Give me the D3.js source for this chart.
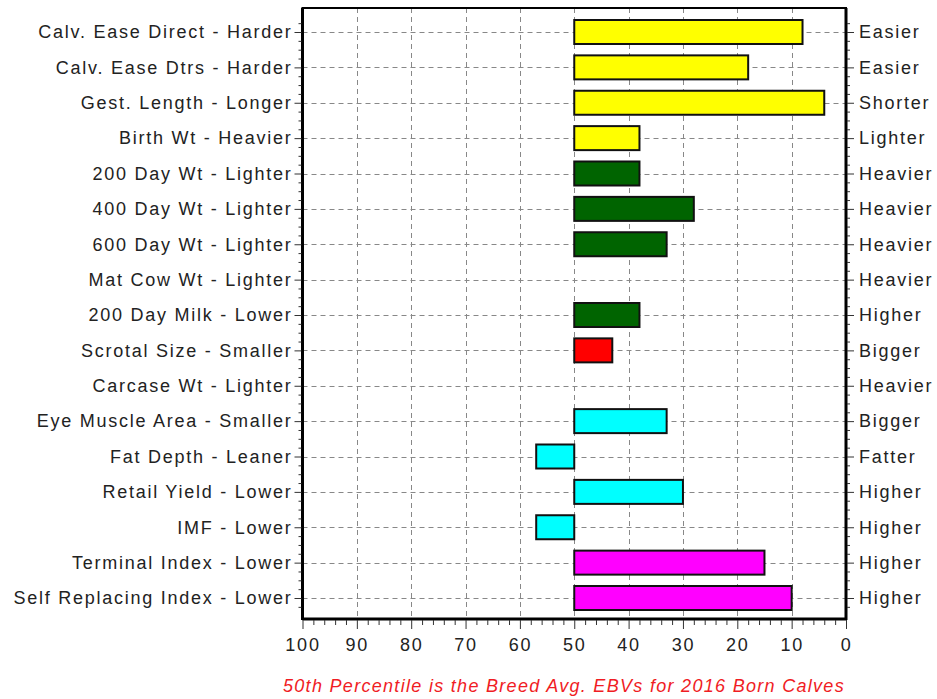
<!DOCTYPE html>
<html>
<head>
<meta charset="utf-8">
<script src="https://cdn.jsdelivr.net/npm/d3@7"></script>
<style>
  body { margin: 0; background: #fff; }
  svg text { font-family: "Liberation Sans", Arial, sans-serif; }
</style>
</head>
<body>
<div id="chart"></div>
<script>
// traits, left label = lower side, right label = better side
const categories = [
  "Calv. Ease Direct - Harder", "Calv. Ease Dtrs - Harder", "Gest. Length - Longer",
  "Birth Wt - Heavier", "200 Day Wt - Lighter", "400 Day Wt - Lighter",
  "600 Day Wt - Lighter", "Mat Cow Wt - Lighter", "200 Day Milk - Lower",
  "Scrotal Size - Smaller", "Carcase Wt - Lighter", "Eye Muscle Area - Smaller",
  "Fat Depth - Leaner", "Retail Yield - Lower", "IMF - Lower",
  "Terminal Index - Lower", "Self Replacing Index - Lower"
];
const rightLabels = [
  "Easier", "Easier", "Shorter", "Lighter", "Heavier", "Heavier", "Heavier",
  "Heavier", "Higher", "Bigger", "Heavier", "Bigger", "Fatter", "Higher",
  "Higher", "Higher", "Higher"
];
// percentile band (null = no bar shown)
const percentiles = [8, 18, 4, 38, 38, 28, 33, null, 38, 43, null, 33, 57, 30, 57, 15, 10];
const barColors = [
  "#ffff00", "#ffff00", "#ffff00", "#ffff00",
  "#006400", "#006400", "#006400", "#006400", "#006400",
  "#ff0000", "#00ffff", "#00ffff", "#00ffff", "#00ffff", "#00ffff",
  "#ff00ff", "#ff00ff"
];
const xTicks = [100, 90, 80, 70, 60, 50, 40, 30, 20, 10, 0];
const baseline = 50;
const footnote = "50th Percentile is the Breed Avg. EBVs for 2016 Born Calves";

const width = 937, height = 699;
const pL = 302.5, pR = 846, pT = 8, pB = 619;

const svg = d3.select("#chart").append("svg")
  .attr("width", width)
  .attr("height", height);

const x = d3.scaleLinear().domain([100, 0]).range([pL, pR]);
const y = d3.scalePoint().domain(categories).range([32, 598]);
const yi = d3.scaleLinear().domain([0, categories.length - 1]).range([32, 598]);
const barH = 24;

// grid
const grid = svg.append("g").attr("stroke", "#888").attr("stroke-dasharray", "5,4").attr("stroke-width", 1);
grid.selectAll(".vg").data(xTicks.filter(d => d !== 0 && d !== 100)).join("line")
  .attr("x1", d => Math.round(x(d)) + 0.5).attr("x2", d => Math.round(x(d)) + 0.5)
  .attr("y1", pT).attr("y2", pB);
grid.selectAll(".hg").data(categories).join("line")
  .attr("x1", pL).attr("x2", pR)
  .attr("y1", d => Math.round(y(d)) + 0.5).attr("y2", d => Math.round(y(d)) + 0.5);

// bars
const rows = categories.map((c, i) => ({ c, v: percentiles[i], col: barColors[i] }))
  .filter(d => d.v !== null);
svg.append("g").selectAll("rect").data(rows).join("rect")
  .attr("x", d => Math.min(x(baseline), x(d.v)))
  .attr("width", d => Math.abs(x(d.v) - x(baseline)))
  .attr("y", d => y(d.c) - barH / 2)
  .attr("height", barH)
  .attr("fill", d => d.col)
  .attr("stroke", "#111")
  .attr("stroke-width", 2);

// frame
svg.append("rect")
  .attr("x", pL).attr("y", pT)
  .attr("width", pR - pL).attr("height", pB - pT)
  .attr("fill", "none").attr("stroke", "#000").attr("stroke-width", 2);
svg.append("line").attr("x1", pL).attr("x2", pL).attr("y1", pT).attr("y2", pB + 1)
  .attr("stroke", "#000").attr("stroke-width", 3);
svg.append("line").attr("x1", pR).attr("x2", pR).attr("y1", pT).attr("y2", pB + 1)
  .attr("stroke", "#000").attr("stroke-width", 3);
svg.append("line").attr("x1", pL).attr("x2", pR).attr("y1", pB).attr("y2", pB)
  .attr("stroke", "#000").attr("stroke-width", 3);

// axes
const styleAxis = g => {
  g.select(".domain").remove();
  g.selectAll("line").attr("stroke", "#333");
  g.selectAll("text").attr("fill", "#222")
    .style("font-size", "18px").style("letter-spacing", "1.75px");
};

const minorY = d3.range(-0.25, categories.length - 0.74, 0.25).filter(d => d % 1 !== 0);

svg.append("g").attr("transform", `translate(${pL - 1},0)`)
  .call(d3.axisLeft(y).tickSize(7).tickPadding(2)).call(styleAxis);
svg.append("g").attr("transform", `translate(${pL - 1},0)`)
  .call(d3.axisLeft(yi).tickValues(minorY).tickSize(3).tickFormat("")).call(styleAxis);

const yR = d3.scalePoint().domain(d3.range(categories.length)).range([32, 598]);
svg.append("g").attr("transform", `translate(${pR + 1},0)`)
  .call(d3.axisRight(yR).tickSize(7).tickPadding(5).tickFormat(i => rightLabels[i])).call(styleAxis);
svg.append("g").attr("transform", `translate(${pR + 1},0)`)
  .call(d3.axisRight(yi).tickValues(minorY).tickSize(3).tickFormat("")).call(styleAxis);

svg.append("g").attr("transform", `translate(0,${pB + 1})`)
  .call(d3.axisBottom(x).tickValues(xTicks).tickSize(9).tickPadding(9).tickFormat(d3.format("d")))
  .call(styleAxis);
svg.append("g").attr("transform", `translate(0,${pB + 1})`)
  .call(d3.axisBottom(x).tickValues(d3.range(0, 101, 2).filter(d => d % 10 !== 0)).tickSize(5).tickFormat(""))
  .call(styleAxis);

// footnote
svg.append("text")
  .attr("x", 564).attr("y", 692)
  .attr("text-anchor", "middle")
  .attr("fill", "#f01c24")
  .style("font-size", "18px")
  .style("letter-spacing", "1.3px")
  .style("font-style", "italic")
  .text(footnote);
</script>
</body>
</html>
